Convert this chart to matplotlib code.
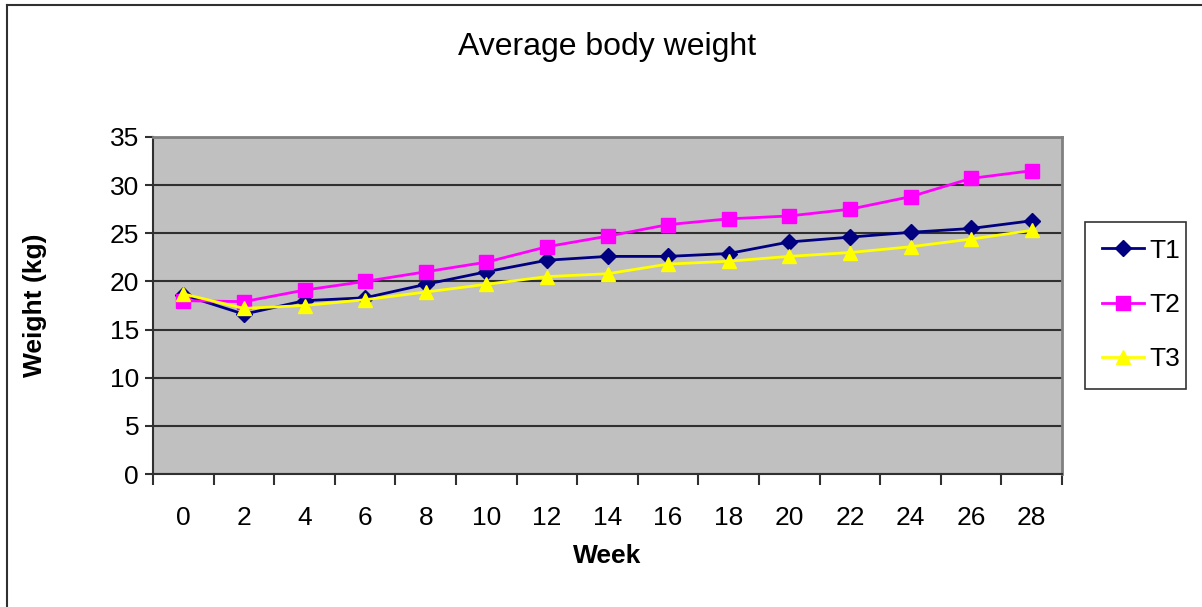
import matplotlib.pyplot as plt
from matplotlib.lines import Line2D
import numpy as np

plt.rcParams['font.family'] = ['Liberation Sans', 'DejaVu Sans']

weeks = ['0', '2', '4', '6', '8', '10', '12', '14', '16', '18', '20', '22', '24', '26', '28']
t1 = [18.6, 16.6, 18.0, 18.3, 19.7, 21.0, 22.2, 22.6, 22.6, 22.9, 24.1, 24.6, 25.1, 25.5, 26.3]
t2 = [18.0, 17.9, 19.1, 20.0, 21.0, 22.0, 23.6, 24.7, 25.9, 26.5, 26.8, 27.5, 28.8, 30.7, 31.5]
t3 = [18.7, 17.2, 17.5, 18.1, 18.9, 19.7, 20.5, 20.8, 21.8, 22.1, 22.6, 23.0, 23.6, 24.4, 25.3]

W, H = 1202, 607
fig = plt.figure(figsize=(W / 100, H / 100), dpi=100)

# outer chart frame (only left/top edges visible in the reference)
fig.add_artist(Line2D([7 / W, 7 / W], [0, 1 - 5 / H], transform=fig.transFigure, color='#303030', lw=1.5))
fig.add_artist(Line2D([7 / W, 1], [1 - 5 / H, 1 - 5 / H], transform=fig.transFigure, color='#303030', lw=1.5))

ax = fig.add_axes([153 / W, 1 - 474 / H, (1062 - 153) / W, (474 - 137) / H])
ax.set_facecolor('#C0C0C0')

x = np.arange(len(weeks))
ax.plot(x, t1, color='#000080', marker='D', markersize=8, lw=2, label='T1')
ax.plot(x, t2, color='#FF00FF', marker='s', markersize=10, lw=2, label='T2')
ax.plot(x, t3, color='#FFFF00', marker='^', markersize=10, lw=2, label='T3')

ax.set_xlim(-0.5, len(weeks) - 0.5)
ax.set_ylim(0, 35)
ax.set_yticks(range(0, 36, 5))
ax.yaxis.grid(True, color='#303030', lw=1.5)
ax.set_axisbelow(True)

ax.set_xticks(np.arange(-0.5, len(weeks), 1))
ax.set_xticklabels([])
ax.set_xticks(x, minor=True)
ax.set_xticklabels(weeks, minor=True)
ax.tick_params(axis='x', which='major', length=8, width=1.5, color='#303030')
ax.tick_params(axis='x', which='minor', length=0, pad=23, labelsize=19)
ax.tick_params(axis='y', length=6, width=1.5, color='#303030', labelsize=19, pad=4)

for side in ['left', 'bottom']:
    ax.spines[side].set_color('#303030')
    ax.spines[side].set_linewidth(1.5)
for side in ['right', 'top']:
    ax.spines[side].set_color('#808080')
    ax.spines[side].set_linewidth(2)

ax.set_xlabel('Week', fontsize=19, fontweight='bold', labelpad=10)
ax.set_ylabel('Weight (kg)', fontsize=19, fontweight='bold', labelpad=45)
fig.text(607 / W, 1 - 47 / H, 'Average body weight', fontsize=23, ha='center', va='center')

leg = ax.legend(loc='center left', bbox_to_anchor=(1085 / W, 1 - 389 / H, 101 / W, 168 / H),
                bbox_transform=fig.transFigure, mode='expand', frameon=True, fancybox=False,
                fontsize=19, labelspacing=1.15, handlelength=1.6, handletextpad=0.2,
                borderaxespad=0, borderpad=0.65)
leg.get_frame().set_edgecolor('#000000')
leg.get_frame().set_linewidth(1.2)

fig.savefig('out.png', dpi=100)
